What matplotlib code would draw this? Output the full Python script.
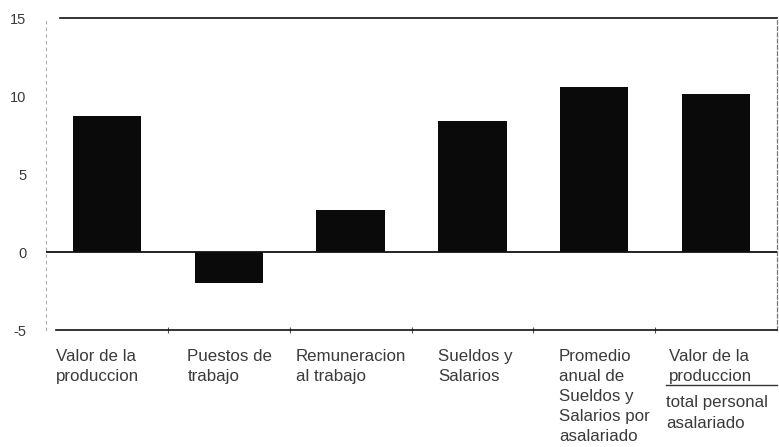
import matplotlib
matplotlib.use("Agg")
import matplotlib.pyplot as plt
import numpy as np

plt.rcParams['font.family'] = ['Liberation Sans', 'DejaVu Sans']

categories = [
    "Valor de la\nproduccion",
    "Puestos de\ntrabajo",
    "Remuneracion\nal trabajo",
    "Sueldos y\nSalarios",
    "Promedio\nanual de\nSueldos y\nSalarios por\nasalariado",
    "Valor de la\nproduccion",
]
values = [8.7, -2.0, 2.7, 8.4, 10.6, 10.1]
yticks = [-5, 0, 5, 10, 15]
denominator_label = "total personal\nasalariado"

# layout (label offsets in category units from each slot's left edge)
label_offsets = [0.08, 0.16, 0.05, 0.22, 0.21, 0.11]
TXT = "#3a3a3a"
FS = 12.2

W, H = 779, 447
fig = plt.figure(figsize=(W / 100, H / 100), dpi=100)
ax_l, ax_r, ax_t, ax_b = 46, 777, 18, 330
ax = fig.add_axes([ax_l / W, 1 - ax_b / H, (ax_r - ax_l) / W, (ax_b - ax_t) / H])

x = np.arange(len(values))
ax.bar(x, values, width=0.56, color="#0a0a0a", zorder=3)
ax.axhline(0, color="#111111", lw=1.3, zorder=4)

ax.set_xlim(-0.5, len(values) - 0.5)
ax.set_ylim(-5, 15)
ax.set_yticks(yticks)
ax.set_yticklabels([str(v) for v in yticks], fontsize=10.5, color=TXT)
ax.tick_params(axis='y', length=0, pad=14)

ax.set_xticks(np.arange(len(values) - 1) + 0.5)
ax.set_xticklabels([])
ax.tick_params(axis='x', direction='inout', length=4, width=0.8, color="#555555")

ax.spines['left'].set_linestyle((0, (2, 4)))
ax.spines['left'].set_color("#aaaaaa")
ax.spines['left'].set_linewidth(0.8)
ax.spines['right'].set_linestyle((0, (3, 2)))
ax.spines['right'].set_color("#777777")
ax.spines['right'].set_linewidth(0.9)
ax.spines['top'].set_visible(False)
ax.spines['bottom'].set_visible(False)

# top and bottom frame lines start slightly inset from the left dotted line
ax.plot([14 / (ax_r - ax_l), 1], [1, 1], transform=ax.transAxes, color="#111111",
        lw=1.2, clip_on=False, zorder=5)
ax.plot([10 / (ax_r - ax_l), 1], [0, 0], transform=ax.transAxes, color="#111111",
        lw=1.2, clip_on=False, zorder=5)

trans = ax.get_xaxis_transform()
for i, (lab, off) in enumerate(zip(categories, label_offsets)):
    ax.annotate(lab, xy=(i - 0.5 + off, 0), xycoords=trans,
                xytext=(0, -13.5), textcoords='offset points',
                ha='left', va='top', fontsize=FS, color=TXT, linespacing=1.42,
                annotation_clip=False)

# fraction line and denominator for the last label
xt = len(values) - 1 - 0.5 + label_offsets[-1]
line_y = -(385 - ax_b) / (ax_b - ax_t)
ax.plot([xt - 0.02, 1.0 * len(values) - 0.5], [line_y, line_y], transform=trans,
        color="#333333", lw=1.0, clip_on=False)
ax.annotate(denominator_label, xy=(xt - 0.02, line_y), xycoords=trans,
            xytext=(0, -7.5), textcoords='offset points',
            ha='left', va='top', fontsize=FS, color=TXT, linespacing=1.5,
            annotation_clip=False)

fig.savefig("out.png", dpi=100, facecolor="white")
